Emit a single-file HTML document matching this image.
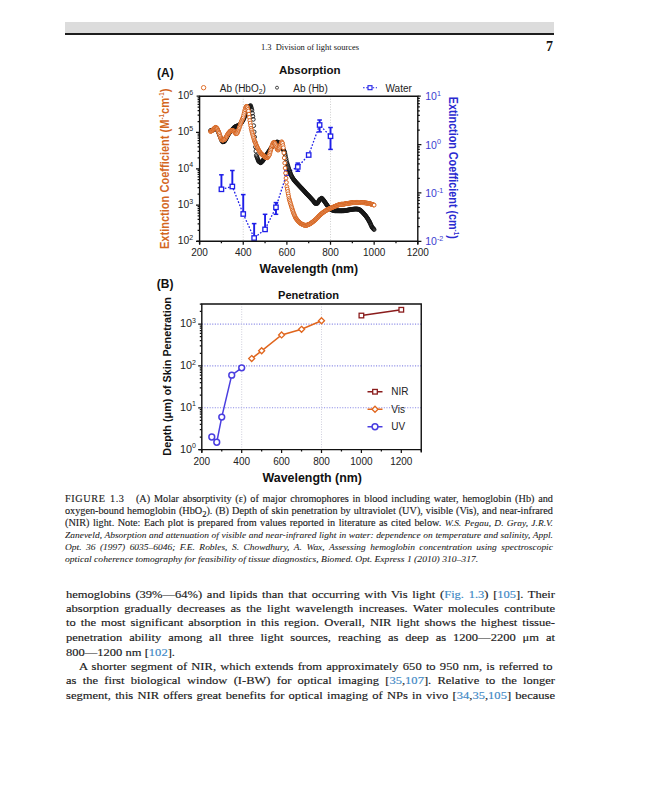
<!DOCTYPE html>
<html><head><meta charset="utf-8">
<style>
html,body{margin:0;padding:0;background:#fff;}
body{width:648px;height:800px;position:relative;overflow:hidden;}
.band{position:absolute;left:65px;top:22px;width:489px;height:11px;background:#dcdcdc;}
.rule{position:absolute;left:65px;top:33px;width:489px;height:2px;background:#1e1e1e;}
.rh{position:absolute;left:261px;top:42.2px;font:8.45px "Liberation Serif",serif;color:#111;white-space:pre;transform-origin:0 0;}
.pno{position:absolute;left:546px;top:39px;font:bold 14px "Liberation Serif",serif;color:#111;}
.ln{position:absolute;left:65.5px;white-space:nowrap;font-family:"Liberation Serif",serif;color:#1a1a1a;transform-origin:0 0;}
.j{text-align:justify;text-align-last:justify;white-space:normal;}
.cap{left:65px;font-size:9.3px;width:443.6px;transform:scaleX(1.1);-webkit-text-stroke:0.12px #1a1a1a;}
.cap i{font-size:8.6px;-webkit-text-stroke:0.05px #1a1a1a;}
.bd{font-size:11.2px;width:436.6px;transform:scaleX(1.12);-webkit-text-stroke:0.15px #1a1a1a;}
.lk{color:#3d87c4;-webkit-text-stroke-color:#3d87c4;}
i{font-style:italic;}
</style></head>
<body>
<div class="band"></div>
<div class="rule"></div>
<div class="rh">1.3  Division of light sources</div>
<div class="pno">7</div>

<svg width="648" height="490" viewBox="0 0 648 490" style="position:absolute;left:0;top:0">
<g font-family="Liberation Sans, sans-serif">
<line x1="243.24" y1="96.2" x2="243.24" y2="241.3" stroke="#c8c8c8" stroke-width="0.9" stroke-dasharray="1,1.6"/>
<line x1="330.52" y1="96.2" x2="330.52" y2="241.3" stroke="#c8c8c8" stroke-width="0.9" stroke-dasharray="1,1.6"/>
<polyline points="221.42,189.3 232.33,186.5 243.24,214 254.15,238 265.06,229.4 275.97,207.3 286.88,173 297.79,166.9 308.7,155 319.61,125 330.52,136.25" fill="none" stroke="#1e1ee8" stroke-width="1.3" stroke-dasharray="1.7,1.7"/>
<line x1="221.42" y1="174.8" x2="221.42" y2="189.3" stroke="#1e1ee8" stroke-width="1.9"/>
<line x1="219.12" y1="174.8" x2="223.72" y2="174.8" stroke="#1e1ee8" stroke-width="1.5"/>
<rect x="219.22" y="187.1" width="4.4" height="4.4" fill="#fff" stroke="#1e1ee8" stroke-width="1.3"/>
<line x1="232.33" y1="170.5" x2="232.33" y2="186.5" stroke="#1e1ee8" stroke-width="1.9"/>
<line x1="230.03" y1="170.5" x2="234.63" y2="170.5" stroke="#1e1ee8" stroke-width="1.5"/>
<rect x="230.13" y="184.3" width="4.4" height="4.4" fill="#fff" stroke="#1e1ee8" stroke-width="1.3"/>
<line x1="243.24" y1="194.6" x2="243.24" y2="214" stroke="#1e1ee8" stroke-width="1.9"/>
<line x1="240.94" y1="194.6" x2="245.54" y2="194.6" stroke="#1e1ee8" stroke-width="1.5"/>
<rect x="241.04" y="211.8" width="4.4" height="4.4" fill="#fff" stroke="#1e1ee8" stroke-width="1.3"/>
<line x1="254.15" y1="223.6" x2="254.15" y2="238" stroke="#1e1ee8" stroke-width="1.9"/>
<line x1="251.85" y1="223.6" x2="256.45" y2="223.6" stroke="#1e1ee8" stroke-width="1.5"/>
<rect x="251.95" y="235.8" width="4.4" height="4.4" fill="#fff" stroke="#1e1ee8" stroke-width="1.3"/>
<line x1="265.06" y1="214.3" x2="265.06" y2="229.4" stroke="#1e1ee8" stroke-width="1.9"/>
<line x1="262.76" y1="214.3" x2="267.36" y2="214.3" stroke="#1e1ee8" stroke-width="1.5"/>
<rect x="262.86" y="227.2" width="4.4" height="4.4" fill="#fff" stroke="#1e1ee8" stroke-width="1.3"/>
<line x1="275.97" y1="202.6" x2="275.97" y2="207.3" stroke="#1e1ee8" stroke-width="1.9"/>
<line x1="273.67" y1="202.6" x2="278.27" y2="202.6" stroke="#1e1ee8" stroke-width="1.5"/>
<line x1="275.97" y1="207.3" x2="275.97" y2="214.3" stroke="#1e1ee8" stroke-width="1.9"/>
<line x1="273.67" y1="214.3" x2="278.27" y2="214.3" stroke="#1e1ee8" stroke-width="1.5"/>
<rect x="273.77" y="205.1" width="4.4" height="4.4" fill="#fff" stroke="#1e1ee8" stroke-width="1.3"/>
<rect x="284.68" y="170.8" width="4.4" height="4.4" fill="#fff" stroke="#1e1ee8" stroke-width="1.3"/>
<line x1="297.79" y1="163.1" x2="297.79" y2="166.9" stroke="#1e1ee8" stroke-width="1.9"/>
<line x1="295.49" y1="163.1" x2="300.09" y2="163.1" stroke="#1e1ee8" stroke-width="1.5"/>
<line x1="297.79" y1="166.9" x2="297.79" y2="171.25" stroke="#1e1ee8" stroke-width="1.9"/>
<line x1="295.49" y1="171.25" x2="300.09" y2="171.25" stroke="#1e1ee8" stroke-width="1.5"/>
<rect x="295.59" y="164.7" width="4.4" height="4.4" fill="#fff" stroke="#1e1ee8" stroke-width="1.3"/>
<rect x="306.5" y="152.8" width="4.4" height="4.4" fill="#fff" stroke="#1e1ee8" stroke-width="1.3"/>
<line x1="319.61" y1="120" x2="319.61" y2="125" stroke="#1e1ee8" stroke-width="1.9"/>
<line x1="317.31" y1="120" x2="321.91" y2="120" stroke="#1e1ee8" stroke-width="1.5"/>
<line x1="319.61" y1="125" x2="319.61" y2="131.9" stroke="#1e1ee8" stroke-width="1.9"/>
<line x1="317.31" y1="131.9" x2="321.91" y2="131.9" stroke="#1e1ee8" stroke-width="1.5"/>
<rect x="317.41" y="122.8" width="4.4" height="4.4" fill="#fff" stroke="#1e1ee8" stroke-width="1.3"/>
<line x1="330.52" y1="127.5" x2="330.52" y2="136.25" stroke="#1e1ee8" stroke-width="1.9"/>
<line x1="328.22" y1="127.5" x2="332.82" y2="127.5" stroke="#1e1ee8" stroke-width="1.5"/>
<line x1="330.52" y1="136.25" x2="330.52" y2="149.4" stroke="#1e1ee8" stroke-width="1.9"/>
<line x1="328.22" y1="149.4" x2="332.82" y2="149.4" stroke="#1e1ee8" stroke-width="1.5"/>
<rect x="328.32" y="134.05" width="4.4" height="4.4" fill="#fff" stroke="#1e1ee8" stroke-width="1.3"/>
<g fill="none" stroke="#151515" stroke-width="0.9"><circle cx="210.51" cy="130.59" r="1.9"/><circle cx="210.95" cy="130.49" r="1.9"/><circle cx="211.38" cy="130.39" r="1.9"/><circle cx="211.82" cy="130.29" r="1.9"/><circle cx="212.26" cy="130.19" r="1.9"/><circle cx="212.69" cy="130.1" r="1.9"/><circle cx="213.13" cy="129.85" r="1.9"/><circle cx="213.56" cy="129.61" r="1.9"/><circle cx="214" cy="129.37" r="1.9"/><circle cx="214.44" cy="129.12" r="1.9"/><circle cx="214.87" cy="128.88" r="1.9"/><circle cx="215.31" cy="128.78" r="1.9"/><circle cx="215.75" cy="128.68" r="1.9"/><circle cx="216.18" cy="128.59" r="1.9"/><circle cx="216.62" cy="128.84" r="1.9"/><circle cx="217.06" cy="129.09" r="1.9"/><circle cx="217.49" cy="130.1" r="1.9"/><circle cx="217.93" cy="131.11" r="1.9"/><circle cx="218.37" cy="132.12" r="1.9"/><circle cx="218.8" cy="133.13" r="1.9"/><circle cx="219.24" cy="134.13" r="1.9"/><circle cx="219.67" cy="135.31" r="1.9"/><circle cx="220.11" cy="136.48" r="1.9"/><circle cx="220.55" cy="137.66" r="1.9"/><circle cx="220.98" cy="138.83" r="1.9"/><circle cx="221.42" cy="140.01" r="1.9"/><circle cx="221.86" cy="140.64" r="1.9"/><circle cx="222.29" cy="141.26" r="1.9"/><circle cx="222.73" cy="141.89" r="1.9"/><circle cx="223.17" cy="141.75" r="1.9"/><circle cx="223.6" cy="141.61" r="1.9"/><circle cx="224.04" cy="141.47" r="1.9"/><circle cx="224.47" cy="141.33" r="1.9"/><circle cx="224.91" cy="140.64" r="1.9"/><circle cx="225.35" cy="139.95" r="1.9"/><circle cx="225.78" cy="139.26" r="1.9"/><circle cx="226.22" cy="138.42" r="1.9"/><circle cx="226.66" cy="137.57" r="1.9"/><circle cx="227.09" cy="136.73" r="1.9"/><circle cx="227.53" cy="135.88" r="1.9"/><circle cx="227.97" cy="135.04" r="1.9"/><circle cx="228.4" cy="134.37" r="1.9"/><circle cx="228.84" cy="133.7" r="1.9"/><circle cx="229.28" cy="133.04" r="1.9"/><circle cx="229.71" cy="132.37" r="1.9"/><circle cx="230.15" cy="131.71" r="1.9"/><circle cx="230.58" cy="131.29" r="1.9"/><circle cx="231.02" cy="130.86" r="1.9"/><circle cx="231.46" cy="130.44" r="1.9"/><circle cx="231.89" cy="130.02" r="1.9"/><circle cx="232.33" cy="129.6" r="1.9"/><circle cx="232.77" cy="129.12" r="1.9"/><circle cx="233.2" cy="128.63" r="1.9"/><circle cx="233.64" cy="128.15" r="1.9"/><circle cx="234.08" cy="127.66" r="1.9"/><circle cx="234.51" cy="127.17" r="1.9"/><circle cx="234.95" cy="126.96" r="1.9"/><circle cx="235.38" cy="126.74" r="1.9"/><circle cx="235.82" cy="126.52" r="1.9"/><circle cx="236.26" cy="126.3" r="1.9"/><circle cx="236.69" cy="126.09" r="1.9"/><circle cx="237.13" cy="125.98" r="1.9"/><circle cx="237.57" cy="125.88" r="1.9"/><circle cx="238" cy="125.78" r="1.9"/><circle cx="238.44" cy="125.67" r="1.9"/><circle cx="238.88" cy="125.57" r="1.9"/><circle cx="239.31" cy="125.1" r="1.9"/><circle cx="239.75" cy="124.63" r="1.9"/><circle cx="240.19" cy="124.16" r="1.9"/><circle cx="240.62" cy="123.69" r="1.9"/><circle cx="241.06" cy="123.21" r="1.9"/><circle cx="241.49" cy="122.54" r="1.9"/><circle cx="241.93" cy="121.86" r="1.9"/><circle cx="242.37" cy="121.18" r="1.9"/><circle cx="242.8" cy="120.5" r="1.9"/><circle cx="243.24" cy="119.82" r="1.9"/><circle cx="243.68" cy="118.85" r="1.9"/><circle cx="244.11" cy="117.88" r="1.9"/><circle cx="244.55" cy="116.9" r="1.9"/><circle cx="244.99" cy="115.93" r="1.9"/><circle cx="245.42" cy="114.96" r="1.9"/><circle cx="245.86" cy="114.04" r="1.9"/><circle cx="246.29" cy="113.11" r="1.9"/><circle cx="246.73" cy="112.19" r="1.9"/><circle cx="247.17" cy="111.26" r="1.9"/><circle cx="247.6" cy="110.34" r="1.9"/><circle cx="248.04" cy="109.37" r="1.9"/><circle cx="248.48" cy="108.41" r="1.9"/><circle cx="248.91" cy="107.44" r="1.9"/><circle cx="249.35" cy="106.84" r="1.9"/><circle cx="249.79" cy="106.24" r="1.9"/><circle cx="250.22" cy="105.93" r="1.9"/><circle cx="250.66" cy="105.62" r="1.9"/><circle cx="251.1" cy="107.12" r="1.9"/><circle cx="251.53" cy="108.62" r="1.9"/><circle cx="251.97" cy="110.12" r="1.9"/><circle cx="252.4" cy="113.2" r="1.9"/><circle cx="252.84" cy="116.28" r="1.9"/><circle cx="253.28" cy="119.35" r="1.9"/><circle cx="253.71" cy="125.66" r="1.9"/><circle cx="254.15" cy="131.96" r="1.9"/><circle cx="254.59" cy="136.95" r="1.9"/><circle cx="255.02" cy="141.93" r="1.9"/><circle cx="255.46" cy="146.91" r="1.9"/><circle cx="255.9" cy="151.14" r="1.9"/><circle cx="256.33" cy="155.36" r="1.9"/><circle cx="256.77" cy="156.53" r="1.9"/><circle cx="257.2" cy="157.7" r="1.9"/><circle cx="257.64" cy="158.86" r="1.9"/><circle cx="258.08" cy="160.03" r="1.9"/><circle cx="258.51" cy="161.19" r="1.9"/><circle cx="258.95" cy="161.52" r="1.9"/><circle cx="259.39" cy="161.85" r="1.9"/><circle cx="259.82" cy="162.18" r="1.9"/><circle cx="260.26" cy="162.51" r="1.9"/><circle cx="260.7" cy="162.84" r="1.9"/><circle cx="261.13" cy="162.41" r="1.9"/><circle cx="261.57" cy="161.98" r="1.9"/><circle cx="262.01" cy="161.55" r="1.9"/><circle cx="262.44" cy="161.12" r="1.9"/><circle cx="262.88" cy="160.69" r="1.9"/><circle cx="263.31" cy="159.98" r="1.9"/><circle cx="263.75" cy="159.28" r="1.9"/><circle cx="264.19" cy="158.57" r="1.9"/><circle cx="264.62" cy="157.87" r="1.9"/><circle cx="265.06" cy="157.17" r="1.9"/><circle cx="265.5" cy="156.5" r="1.9"/><circle cx="265.93" cy="155.83" r="1.9"/><circle cx="266.37" cy="155.17" r="1.9"/><circle cx="266.81" cy="154.5" r="1.9"/><circle cx="267.24" cy="153.83" r="1.9"/><circle cx="267.68" cy="153.19" r="1.9"/><circle cx="268.11" cy="152.55" r="1.9"/><circle cx="268.55" cy="151.91" r="1.9"/><circle cx="268.99" cy="151.27" r="1.9"/><circle cx="269.42" cy="150.63" r="1.9"/><circle cx="269.86" cy="149.96" r="1.9"/><circle cx="270.3" cy="149.3" r="1.9"/><circle cx="270.73" cy="148.63" r="1.9"/><circle cx="271.17" cy="147.96" r="1.9"/><circle cx="271.61" cy="147.29" r="1.9"/><circle cx="272.04" cy="146.74" r="1.9"/><circle cx="272.48" cy="146.18" r="1.9"/><circle cx="272.92" cy="145.62" r="1.9"/><circle cx="273.35" cy="145.06" r="1.9"/><circle cx="273.79" cy="144.51" r="1.9"/><circle cx="274.22" cy="144.08" r="1.9"/><circle cx="274.66" cy="143.65" r="1.9"/><circle cx="275.1" cy="143.22" r="1.9"/><circle cx="275.53" cy="142.79" r="1.9"/><circle cx="275.97" cy="142.35" r="1.9"/><circle cx="276.41" cy="142.25" r="1.9"/><circle cx="276.84" cy="142.14" r="1.9"/><circle cx="277.28" cy="142.03" r="1.9"/><circle cx="277.72" cy="142.14" r="1.9"/><circle cx="278.15" cy="142.24" r="1.9"/><circle cx="278.59" cy="142.8" r="1.9"/><circle cx="279.02" cy="143.36" r="1.9"/><circle cx="279.46" cy="143.92" r="1.9"/><circle cx="279.9" cy="144.47" r="1.9"/><circle cx="280.33" cy="145.03" r="1.9"/><circle cx="280.77" cy="145.65" r="1.9"/><circle cx="281.21" cy="146.27" r="1.9"/><circle cx="281.64" cy="146.89" r="1.9"/><circle cx="282.08" cy="147.51" r="1.9"/><circle cx="282.52" cy="148.13" r="1.9"/><circle cx="282.95" cy="148.97" r="1.9"/><circle cx="283.39" cy="149.82" r="1.9"/><circle cx="283.83" cy="150.66" r="1.9"/><circle cx="284.26" cy="151.5" r="1.9"/><circle cx="284.7" cy="152.35" r="1.9"/><circle cx="285.13" cy="154.42" r="1.9"/><circle cx="285.57" cy="156.49" r="1.9"/><circle cx="286.01" cy="158.56" r="1.9"/><circle cx="286.44" cy="160.63" r="1.9"/><circle cx="286.88" cy="162.71" r="1.9"/><circle cx="287.32" cy="164.09" r="1.9"/><circle cx="287.75" cy="165.48" r="1.9"/><circle cx="288.19" cy="166.87" r="1.9"/><circle cx="288.63" cy="168.26" r="1.9"/><circle cx="289.06" cy="169.65" r="1.9"/><circle cx="289.5" cy="170.82" r="1.9"/><circle cx="289.93" cy="172" r="1.9"/><circle cx="290.37" cy="173.17" r="1.9"/><circle cx="290.81" cy="174.34" r="1.9"/><circle cx="291.24" cy="175.51" r="1.9"/><circle cx="291.68" cy="176.25" r="1.9"/><circle cx="292.12" cy="176.99" r="1.9"/><circle cx="292.55" cy="177.73" r="1.9"/><circle cx="292.99" cy="178.47" r="1.9"/><circle cx="293.43" cy="179.21" r="1.9"/><circle cx="293.86" cy="179.74" r="1.9"/><circle cx="294.3" cy="180.28" r="1.9"/><circle cx="294.74" cy="180.81" r="1.9"/><circle cx="295.17" cy="181.35" r="1.9"/><circle cx="295.61" cy="181.88" r="1.9"/><circle cx="296.04" cy="182.35" r="1.9"/><circle cx="296.48" cy="182.81" r="1.9"/><circle cx="296.92" cy="183.27" r="1.9"/><circle cx="297.35" cy="183.74" r="1.9"/><circle cx="297.79" cy="184.2" r="1.9"/><circle cx="298.23" cy="184.68" r="1.9"/><circle cx="298.66" cy="185.15" r="1.9"/><circle cx="299.1" cy="185.62" r="1.9"/><circle cx="299.54" cy="186.1" r="1.9"/><circle cx="299.97" cy="186.57" r="1.9"/><circle cx="300.41" cy="187.02" r="1.9"/><circle cx="300.84" cy="187.48" r="1.9"/><circle cx="301.28" cy="187.93" r="1.9"/><circle cx="301.72" cy="188.38" r="1.9"/><circle cx="302.15" cy="188.83" r="1.9"/><circle cx="302.59" cy="189.3" r="1.9"/><circle cx="303.03" cy="189.77" r="1.9"/><circle cx="303.46" cy="190.24" r="1.9"/><circle cx="303.9" cy="190.71" r="1.9"/><circle cx="304.34" cy="191.18" r="1.9"/><circle cx="304.77" cy="191.68" r="1.9"/><circle cx="305.21" cy="192.19" r="1.9"/><circle cx="305.65" cy="192.69" r="1.9"/><circle cx="306.08" cy="193.2" r="1.9"/><circle cx="306.52" cy="193.7" r="1.9"/><circle cx="306.95" cy="194.12" r="1.9"/><circle cx="307.39" cy="194.55" r="1.9"/><circle cx="307.83" cy="194.97" r="1.9"/><circle cx="308.26" cy="195.39" r="1.9"/><circle cx="308.7" cy="195.82" r="1.9"/><circle cx="309.14" cy="196.3" r="1.9"/><circle cx="309.57" cy="196.78" r="1.9"/><circle cx="310.01" cy="197.26" r="1.9"/><circle cx="310.45" cy="197.74" r="1.9"/><circle cx="310.88" cy="198.22" r="1.9"/><circle cx="311.32" cy="198.69" r="1.9"/><circle cx="311.75" cy="199.16" r="1.9"/><circle cx="312.19" cy="199.64" r="1.9"/><circle cx="312.63" cy="200.11" r="1.9"/><circle cx="313.06" cy="200.58" r="1.9"/><circle cx="313.5" cy="201.16" r="1.9"/><circle cx="313.94" cy="201.75" r="1.9"/><circle cx="314.37" cy="202.33" r="1.9"/><circle cx="314.81" cy="202.91" r="1.9"/><circle cx="315.25" cy="203.49" r="1.9"/><circle cx="315.68" cy="203.45" r="1.9"/><circle cx="316.12" cy="203.41" r="1.9"/><circle cx="316.56" cy="203.38" r="1.9"/><circle cx="316.99" cy="203.34" r="1.9"/><circle cx="317.43" cy="203.3" r="1.9"/><circle cx="317.86" cy="202.57" r="1.9"/><circle cx="318.3" cy="201.84" r="1.9"/><circle cx="318.74" cy="201.12" r="1.9"/><circle cx="319.17" cy="200.39" r="1.9"/><circle cx="319.61" cy="199.67" r="1.9"/><circle cx="320.05" cy="199.36" r="1.9"/><circle cx="320.48" cy="199.05" r="1.9"/><circle cx="320.92" cy="198.75" r="1.9"/><circle cx="321.36" cy="198.44" r="1.9"/><circle cx="321.79" cy="198.14" r="1.9"/><circle cx="322.23" cy="198.66" r="1.9"/><circle cx="322.66" cy="199.18" r="1.9"/><circle cx="323.1" cy="199.7" r="1.9"/><circle cx="323.54" cy="200.23" r="1.9"/><circle cx="323.97" cy="200.75" r="1.9"/><circle cx="324.41" cy="201.37" r="1.9"/><circle cx="324.85" cy="202" r="1.9"/><circle cx="325.28" cy="202.63" r="1.9"/><circle cx="325.72" cy="203.25" r="1.9"/><circle cx="326.16" cy="203.88" r="1.9"/><circle cx="326.59" cy="204.5" r="1.9"/><circle cx="327.03" cy="205.12" r="1.9"/><circle cx="327.47" cy="205.74" r="1.9"/><circle cx="327.9" cy="206.37" r="1.9"/><circle cx="328.34" cy="206.99" r="1.9"/><circle cx="328.77" cy="207.45" r="1.9"/><circle cx="329.21" cy="207.92" r="1.9"/><circle cx="329.65" cy="208.38" r="1.9"/><circle cx="330.08" cy="208.85" r="1.9"/><circle cx="330.52" cy="209.31" r="1.9"/><circle cx="330.96" cy="209.5" r="1.9"/><circle cx="331.39" cy="209.69" r="1.9"/><circle cx="331.83" cy="209.88" r="1.9"/><circle cx="332.27" cy="210.07" r="1.9"/><circle cx="332.7" cy="210.26" r="1.9"/><circle cx="333.14" cy="210.37" r="1.9"/><circle cx="333.57" cy="210.47" r="1.9"/><circle cx="334.01" cy="210.58" r="1.9"/><circle cx="334.45" cy="210.68" r="1.9"/><circle cx="334.88" cy="210.79" r="1.9"/><circle cx="335.32" cy="210.79" r="1.9"/><circle cx="335.76" cy="210.79" r="1.9"/><circle cx="336.19" cy="210.79" r="1.9"/><circle cx="336.63" cy="210.8" r="1.9"/><circle cx="337.07" cy="210.8" r="1.9"/><circle cx="337.5" cy="210.8" r="1.9"/><circle cx="337.94" cy="210.81" r="1.9"/><circle cx="338.38" cy="210.81" r="1.9"/><circle cx="338.81" cy="210.81" r="1.9"/><circle cx="339.25" cy="210.82" r="1.9"/><circle cx="339.68" cy="210.82" r="1.9"/><circle cx="340.12" cy="210.83" r="1.9"/><circle cx="340.56" cy="210.83" r="1.9"/><circle cx="340.99" cy="210.84" r="1.9"/><circle cx="341.43" cy="210.84" r="1.9"/><circle cx="341.87" cy="210.83" r="1.9"/><circle cx="342.3" cy="210.81" r="1.9"/><circle cx="342.74" cy="210.8" r="1.9"/><circle cx="343.18" cy="210.79" r="1.9"/><circle cx="343.61" cy="210.77" r="1.9"/><circle cx="344.05" cy="210.72" r="1.9"/><circle cx="344.48" cy="210.67" r="1.9"/><circle cx="344.92" cy="210.62" r="1.9"/><circle cx="345.36" cy="210.57" r="1.9"/><circle cx="345.79" cy="210.51" r="1.9"/><circle cx="346.23" cy="210.42" r="1.9"/><circle cx="346.67" cy="210.33" r="1.9"/><circle cx="347.1" cy="210.24" r="1.9"/><circle cx="347.54" cy="210.15" r="1.9"/><circle cx="347.98" cy="210.06" r="1.9"/><circle cx="348.41" cy="209.99" r="1.9"/><circle cx="348.85" cy="209.91" r="1.9"/><circle cx="349.29" cy="209.84" r="1.9"/><circle cx="349.72" cy="209.77" r="1.9"/><circle cx="350.16" cy="209.69" r="1.9"/><circle cx="350.59" cy="209.62" r="1.9"/><circle cx="351.03" cy="209.54" r="1.9"/><circle cx="351.47" cy="209.46" r="1.9"/><circle cx="351.9" cy="209.39" r="1.9"/><circle cx="352.34" cy="209.31" r="1.9"/><circle cx="352.78" cy="209.26" r="1.9"/><circle cx="353.21" cy="209.21" r="1.9"/><circle cx="353.65" cy="209.15" r="1.9"/><circle cx="354.09" cy="209.1" r="1.9"/><circle cx="354.52" cy="209.05" r="1.9"/><circle cx="354.96" cy="209.04" r="1.9"/><circle cx="355.39" cy="209.03" r="1.9"/><circle cx="355.83" cy="209.02" r="1.9"/><circle cx="356.27" cy="209" r="1.9"/><circle cx="356.7" cy="208.99" r="1.9"/><circle cx="357.14" cy="209.06" r="1.9"/><circle cx="357.58" cy="209.12" r="1.9"/><circle cx="358.01" cy="209.18" r="1.9"/><circle cx="358.45" cy="209.24" r="1.9"/><circle cx="358.89" cy="209.3" r="1.9"/><circle cx="359.32" cy="209.6" r="1.9"/><circle cx="359.76" cy="209.9" r="1.9"/><circle cx="360.2" cy="210.2" r="1.9"/><circle cx="360.63" cy="210.49" r="1.9"/><circle cx="361.07" cy="210.79" r="1.9"/><circle cx="361.5" cy="211.24" r="1.9"/><circle cx="361.94" cy="211.68" r="1.9"/><circle cx="362.38" cy="212.13" r="1.9"/><circle cx="362.81" cy="212.57" r="1.9"/><circle cx="363.25" cy="213.01" r="1.9"/><circle cx="363.69" cy="213.51" r="1.9"/><circle cx="364.12" cy="214.01" r="1.9"/><circle cx="364.56" cy="214.5" r="1.9"/><circle cx="365" cy="215" r="1.9"/><circle cx="365.43" cy="215.49" r="1.9"/><circle cx="365.87" cy="216.09" r="1.9"/><circle cx="366.3" cy="216.69" r="1.9"/><circle cx="366.74" cy="217.28" r="1.9"/><circle cx="367.18" cy="217.88" r="1.9"/><circle cx="367.61" cy="218.47" r="1.9"/><circle cx="368.05" cy="219.25" r="1.9"/><circle cx="368.49" cy="220.02" r="1.9"/><circle cx="368.92" cy="220.79" r="1.9"/><circle cx="369.36" cy="221.56" r="1.9"/><circle cx="369.8" cy="222.34" r="1.9"/><circle cx="370.23" cy="223.3" r="1.9"/><circle cx="370.67" cy="224.26" r="1.9"/><circle cx="371.11" cy="225.22" r="1.9"/><circle cx="371.54" cy="226.18" r="1.9"/><circle cx="371.98" cy="227.14" r="1.9"/><circle cx="372.41" cy="227.63" r="1.9"/><circle cx="372.85" cy="228.13" r="1.9"/><circle cx="373.29" cy="228.62" r="1.9"/><circle cx="373.72" cy="229.12" r="1.9"/><circle cx="374.16" cy="229.61" r="1.9"/></g>
<g fill="#fff" stroke="#d8651f" stroke-width="1.0"><circle cx="210.51" cy="131.54" r="1.9"/><circle cx="210.95" cy="131.25" r="1.9"/><circle cx="211.38" cy="130.96" r="1.9"/><circle cx="211.82" cy="130.67" r="1.9"/><circle cx="212.26" cy="130.39" r="1.9"/><circle cx="212.69" cy="130.1" r="1.9"/><circle cx="213.13" cy="129.6" r="1.9"/><circle cx="213.56" cy="129.1" r="1.9"/><circle cx="214" cy="128.6" r="1.9"/><circle cx="214.44" cy="128.1" r="1.9"/><circle cx="214.87" cy="127.83" r="1.9"/><circle cx="215.31" cy="127.56" r="1.9"/><circle cx="215.75" cy="127.29" r="1.9"/><circle cx="216.18" cy="127.64" r="1.9"/><circle cx="216.62" cy="127.99" r="1.9"/><circle cx="217.06" cy="128.34" r="1.9"/><circle cx="217.49" cy="129.33" r="1.9"/><circle cx="217.93" cy="130.32" r="1.9"/><circle cx="218.37" cy="131.31" r="1.9"/><circle cx="218.8" cy="132.29" r="1.9"/><circle cx="219.24" cy="133.28" r="1.9"/><circle cx="219.67" cy="134.74" r="1.9"/><circle cx="220.11" cy="136.19" r="1.9"/><circle cx="220.55" cy="137.65" r="1.9"/><circle cx="220.98" cy="138.58" r="1.9"/><circle cx="221.42" cy="139.51" r="1.9"/><circle cx="221.86" cy="139.76" r="1.9"/><circle cx="222.29" cy="140.01" r="1.9"/><circle cx="222.73" cy="140.26" r="1.9"/><circle cx="223.17" cy="140.07" r="1.9"/><circle cx="223.6" cy="139.88" r="1.9"/><circle cx="224.04" cy="139.69" r="1.9"/><circle cx="224.47" cy="139.51" r="1.9"/><circle cx="224.91" cy="138.89" r="1.9"/><circle cx="225.35" cy="138.27" r="1.9"/><circle cx="225.78" cy="137.65" r="1.9"/><circle cx="226.22" cy="136.88" r="1.9"/><circle cx="226.66" cy="136.11" r="1.9"/><circle cx="227.09" cy="135.33" r="1.9"/><circle cx="227.53" cy="134.56" r="1.9"/><circle cx="227.97" cy="133.79" r="1.9"/><circle cx="228.4" cy="133.28" r="1.9"/><circle cx="228.84" cy="132.78" r="1.9"/><circle cx="229.28" cy="132.27" r="1.9"/><circle cx="229.71" cy="131.77" r="1.9"/><circle cx="230.15" cy="131.26" r="1.9"/><circle cx="230.58" cy="130.98" r="1.9"/><circle cx="231.02" cy="130.69" r="1.9"/><circle cx="231.46" cy="130.41" r="1.9"/><circle cx="231.89" cy="130.45" r="1.9"/><circle cx="232.33" cy="130.48" r="1.9"/><circle cx="232.77" cy="130.51" r="1.9"/><circle cx="233.2" cy="130.55" r="1.9"/><circle cx="233.64" cy="130.99" r="1.9"/><circle cx="234.08" cy="131.42" r="1.9"/><circle cx="234.51" cy="131.86" r="1.9"/><circle cx="234.95" cy="132.5" r="1.9"/><circle cx="235.38" cy="133.14" r="1.9"/><circle cx="235.82" cy="133.79" r="1.9"/><circle cx="236.26" cy="133.62" r="1.9"/><circle cx="236.69" cy="133.45" r="1.9"/><circle cx="237.13" cy="133.28" r="1.9"/><circle cx="237.57" cy="132.2" r="1.9"/><circle cx="238" cy="131.12" r="1.9"/><circle cx="238.44" cy="130.04" r="1.9"/><circle cx="238.88" cy="128.96" r="1.9"/><circle cx="239.31" cy="127.64" r="1.9"/><circle cx="239.75" cy="126.32" r="1.9"/><circle cx="240.19" cy="125" r="1.9"/><circle cx="240.62" cy="123.68" r="1.9"/><circle cx="241.06" cy="122.36" r="1.9"/><circle cx="241.49" cy="121.3" r="1.9"/><circle cx="241.93" cy="120.24" r="1.9"/><circle cx="242.37" cy="119.17" r="1.9"/><circle cx="242.8" cy="118.11" r="1.9"/><circle cx="243.24" cy="117.05" r="1.9"/><circle cx="243.68" cy="115.18" r="1.9"/><circle cx="244.11" cy="113.31" r="1.9"/><circle cx="244.55" cy="111.44" r="1.9"/><circle cx="244.99" cy="109.82" r="1.9"/><circle cx="245.42" cy="108.2" r="1.9"/><circle cx="245.86" cy="107.29" r="1.9"/><circle cx="246.29" cy="106.37" r="1.9"/><circle cx="246.73" cy="106.59" r="1.9"/><circle cx="247.17" cy="106.81" r="1.9"/><circle cx="247.6" cy="107.75" r="1.9"/><circle cx="248.04" cy="109.39" r="1.9"/><circle cx="248.48" cy="111.03" r="1.9"/><circle cx="248.91" cy="114.18" r="1.9"/><circle cx="249.35" cy="117.33" r="1.9"/><circle cx="249.79" cy="120.48" r="1.9"/><circle cx="250.22" cy="123.1" r="1.9"/><circle cx="250.66" cy="125.72" r="1.9"/><circle cx="251.1" cy="128.34" r="1.9"/><circle cx="251.53" cy="130.15" r="1.9"/><circle cx="251.97" cy="131.96" r="1.9"/><circle cx="252.4" cy="133.53" r="1.9"/><circle cx="252.84" cy="135.1" r="1.9"/><circle cx="253.28" cy="136.67" r="1.9"/><circle cx="253.71" cy="138.23" r="1.9"/><circle cx="254.15" cy="139.8" r="1.9"/><circle cx="254.59" cy="140.89" r="1.9"/><circle cx="255.02" cy="141.98" r="1.9"/><circle cx="255.46" cy="143.06" r="1.9"/><circle cx="255.9" cy="144.15" r="1.9"/><circle cx="256.33" cy="145.24" r="1.9"/><circle cx="256.77" cy="146.16" r="1.9"/><circle cx="257.2" cy="147.08" r="1.9"/><circle cx="257.64" cy="148" r="1.9"/><circle cx="258.08" cy="148.92" r="1.9"/><circle cx="258.51" cy="149.84" r="1.9"/><circle cx="258.95" cy="150.54" r="1.9"/><circle cx="259.39" cy="151.23" r="1.9"/><circle cx="259.82" cy="151.93" r="1.9"/><circle cx="260.26" cy="152.62" r="1.9"/><circle cx="260.7" cy="153.32" r="1.9"/><circle cx="261.13" cy="153.69" r="1.9"/><circle cx="261.57" cy="154.06" r="1.9"/><circle cx="262.01" cy="154.43" r="1.9"/><circle cx="262.44" cy="154.8" r="1.9"/><circle cx="262.88" cy="155.17" r="1.9"/><circle cx="263.31" cy="155.56" r="1.9"/><circle cx="263.75" cy="155.94" r="1.9"/><circle cx="264.19" cy="156.33" r="1.9"/><circle cx="264.62" cy="156.72" r="1.9"/><circle cx="265.06" cy="157.11" r="1.9"/><circle cx="265.5" cy="157.25" r="1.9"/><circle cx="265.93" cy="157.39" r="1.9"/><circle cx="266.37" cy="157.53" r="1.9"/><circle cx="266.81" cy="157.66" r="1.9"/><circle cx="267.24" cy="157.8" r="1.9"/><circle cx="267.68" cy="157.21" r="1.9"/><circle cx="268.11" cy="156.61" r="1.9"/><circle cx="268.55" cy="156.02" r="1.9"/><circle cx="268.99" cy="155.42" r="1.9"/><circle cx="269.42" cy="154.83" r="1.9"/><circle cx="269.86" cy="153.25" r="1.9"/><circle cx="270.3" cy="151.67" r="1.9"/><circle cx="270.73" cy="150.09" r="1.9"/><circle cx="271.17" cy="148.51" r="1.9"/><circle cx="271.61" cy="146.93" r="1.9"/><circle cx="272.04" cy="145.75" r="1.9"/><circle cx="272.48" cy="144.57" r="1.9"/><circle cx="272.92" cy="143.39" r="1.9"/><circle cx="273.35" cy="142.9" r="1.9"/><circle cx="273.79" cy="142.41" r="1.9"/><circle cx="274.22" cy="142.35" r="1.9"/><circle cx="274.66" cy="142.87" r="1.9"/><circle cx="275.1" cy="143.39" r="1.9"/><circle cx="275.53" cy="144.58" r="1.9"/><circle cx="275.97" cy="145.77" r="1.9"/><circle cx="276.41" cy="147" r="1.9"/><circle cx="276.84" cy="148.24" r="1.9"/><circle cx="277.28" cy="149.47" r="1.9"/><circle cx="277.72" cy="149.8" r="1.9"/><circle cx="278.15" cy="150.13" r="1.9"/><circle cx="278.59" cy="149.32" r="1.9"/><circle cx="279.02" cy="148.52" r="1.9"/><circle cx="279.46" cy="147.72" r="1.9"/><circle cx="279.9" cy="146.48" r="1.9"/><circle cx="280.33" cy="145.23" r="1.9"/><circle cx="280.77" cy="144.07" r="1.9"/><circle cx="281.21" cy="142.9" r="1.9"/><circle cx="281.64" cy="141.74" r="1.9"/><circle cx="282.08" cy="142.55" r="1.9"/><circle cx="282.52" cy="143.36" r="1.9"/><circle cx="282.95" cy="145.54" r="1.9"/><circle cx="283.39" cy="147.72" r="1.9"/><circle cx="283.83" cy="152.81" r="1.9"/><circle cx="284.26" cy="157.91" r="1.9"/><circle cx="284.7" cy="163" r="1.9"/><circle cx="285.13" cy="168.06" r="1.9"/><circle cx="285.57" cy="173.11" r="1.9"/><circle cx="286.01" cy="178.17" r="1.9"/><circle cx="286.44" cy="182.43" r="1.9"/><circle cx="286.88" cy="186.7" r="1.9"/><circle cx="287.32" cy="189.08" r="1.9"/><circle cx="287.75" cy="191.45" r="1.9"/><circle cx="288.19" cy="193.82" r="1.9"/><circle cx="288.63" cy="196.2" r="1.9"/><circle cx="289.06" cy="198.57" r="1.9"/><circle cx="289.5" cy="200.05" r="1.9"/><circle cx="289.93" cy="201.53" r="1.9"/><circle cx="290.37" cy="203.01" r="1.9"/><circle cx="290.81" cy="204.49" r="1.9"/><circle cx="291.24" cy="205.97" r="1.9"/><circle cx="291.68" cy="207.34" r="1.9"/><circle cx="292.12" cy="208.7" r="1.9"/><circle cx="292.55" cy="210.07" r="1.9"/><circle cx="292.99" cy="211.44" r="1.9"/><circle cx="293.43" cy="212.81" r="1.9"/><circle cx="293.86" cy="213.83" r="1.9"/><circle cx="294.3" cy="214.84" r="1.9"/><circle cx="294.74" cy="215.86" r="1.9"/><circle cx="295.17" cy="216.87" r="1.9"/><circle cx="295.61" cy="217.89" r="1.9"/><circle cx="296.04" cy="218.46" r="1.9"/><circle cx="296.48" cy="219.04" r="1.9"/><circle cx="296.92" cy="219.62" r="1.9"/><circle cx="297.35" cy="220.2" r="1.9"/><circle cx="297.79" cy="220.77" r="1.9"/><circle cx="298.23" cy="221.22" r="1.9"/><circle cx="298.66" cy="221.66" r="1.9"/><circle cx="299.1" cy="222.11" r="1.9"/><circle cx="299.54" cy="222.55" r="1.9"/><circle cx="299.97" cy="223" r="1.9"/><circle cx="300.41" cy="223.26" r="1.9"/><circle cx="300.84" cy="223.52" r="1.9"/><circle cx="301.28" cy="223.78" r="1.9"/><circle cx="301.72" cy="224.05" r="1.9"/><circle cx="302.15" cy="224.31" r="1.9"/><circle cx="302.59" cy="224.49" r="1.9"/><circle cx="303.03" cy="224.67" r="1.9"/><circle cx="303.46" cy="224.85" r="1.9"/><circle cx="303.9" cy="225.03" r="1.9"/><circle cx="304.34" cy="225.21" r="1.9"/><circle cx="304.77" cy="225.23" r="1.9"/><circle cx="305.21" cy="225.25" r="1.9"/><circle cx="305.65" cy="225.27" r="1.9"/><circle cx="306.08" cy="225.29" r="1.9"/><circle cx="306.52" cy="225.31" r="1.9"/><circle cx="306.95" cy="225.15" r="1.9"/><circle cx="307.39" cy="224.99" r="1.9"/><circle cx="307.83" cy="224.84" r="1.9"/><circle cx="308.26" cy="224.68" r="1.9"/><circle cx="308.7" cy="224.53" r="1.9"/><circle cx="309.14" cy="224.28" r="1.9"/><circle cx="309.57" cy="224.03" r="1.9"/><circle cx="310.01" cy="223.77" r="1.9"/><circle cx="310.45" cy="223.52" r="1.9"/><circle cx="310.88" cy="223.27" r="1.9"/><circle cx="311.32" cy="222.95" r="1.9"/><circle cx="311.75" cy="222.63" r="1.9"/><circle cx="312.19" cy="222.3" r="1.9"/><circle cx="312.63" cy="221.98" r="1.9"/><circle cx="313.06" cy="221.65" r="1.9"/><circle cx="313.5" cy="221.3" r="1.9"/><circle cx="313.94" cy="220.94" r="1.9"/><circle cx="314.37" cy="220.58" r="1.9"/><circle cx="314.81" cy="220.22" r="1.9"/><circle cx="315.25" cy="219.86" r="1.9"/><circle cx="315.68" cy="219.44" r="1.9"/><circle cx="316.12" cy="219.01" r="1.9"/><circle cx="316.56" cy="218.59" r="1.9"/><circle cx="316.99" cy="218.17" r="1.9"/><circle cx="317.43" cy="217.75" r="1.9"/><circle cx="317.86" cy="217.27" r="1.9"/><circle cx="318.3" cy="216.8" r="1.9"/><circle cx="318.74" cy="216.33" r="1.9"/><circle cx="319.17" cy="215.86" r="1.9"/><circle cx="319.61" cy="215.39" r="1.9"/><circle cx="320.05" cy="215" r="1.9"/><circle cx="320.48" cy="214.61" r="1.9"/><circle cx="320.92" cy="214.22" r="1.9"/><circle cx="321.36" cy="213.83" r="1.9"/><circle cx="321.79" cy="213.44" r="1.9"/><circle cx="322.23" cy="213.12" r="1.9"/><circle cx="322.66" cy="212.79" r="1.9"/><circle cx="323.1" cy="212.46" r="1.9"/><circle cx="323.54" cy="212.14" r="1.9"/><circle cx="323.97" cy="211.81" r="1.9"/><circle cx="324.41" cy="211.53" r="1.9"/><circle cx="324.85" cy="211.26" r="1.9"/><circle cx="325.28" cy="210.98" r="1.9"/><circle cx="325.72" cy="210.7" r="1.9"/><circle cx="326.16" cy="210.42" r="1.9"/><circle cx="326.59" cy="210.16" r="1.9"/><circle cx="327.03" cy="209.91" r="1.9"/><circle cx="327.47" cy="209.65" r="1.9"/><circle cx="327.9" cy="209.4" r="1.9"/><circle cx="328.34" cy="209.14" r="1.9"/><circle cx="328.77" cy="208.96" r="1.9"/><circle cx="329.21" cy="208.78" r="1.9"/><circle cx="329.65" cy="208.59" r="1.9"/><circle cx="330.08" cy="208.41" r="1.9"/><circle cx="330.52" cy="208.23" r="1.9"/><circle cx="330.96" cy="208.05" r="1.9"/><circle cx="331.39" cy="207.87" r="1.9"/><circle cx="331.83" cy="207.69" r="1.9"/><circle cx="332.27" cy="207.51" r="1.9"/><circle cx="332.7" cy="207.33" r="1.9"/><circle cx="333.14" cy="207.14" r="1.9"/><circle cx="333.57" cy="206.96" r="1.9"/><circle cx="334.01" cy="206.78" r="1.9"/><circle cx="334.45" cy="206.59" r="1.9"/><circle cx="334.88" cy="206.41" r="1.9"/><circle cx="335.32" cy="206.21" r="1.9"/><circle cx="335.76" cy="206.02" r="1.9"/><circle cx="336.19" cy="205.83" r="1.9"/><circle cx="336.63" cy="205.63" r="1.9"/><circle cx="337.07" cy="205.44" r="1.9"/><circle cx="337.5" cy="205.29" r="1.9"/><circle cx="337.94" cy="205.14" r="1.9"/><circle cx="338.38" cy="204.99" r="1.9"/><circle cx="338.81" cy="204.83" r="1.9"/><circle cx="339.25" cy="204.68" r="1.9"/><circle cx="339.68" cy="204.57" r="1.9"/><circle cx="340.12" cy="204.46" r="1.9"/><circle cx="340.56" cy="204.35" r="1.9"/><circle cx="340.99" cy="204.25" r="1.9"/><circle cx="341.43" cy="204.14" r="1.9"/><circle cx="341.87" cy="204.15" r="1.9"/><circle cx="342.3" cy="204.16" r="1.9"/><circle cx="342.74" cy="204.17" r="1.9"/><circle cx="343.18" cy="204.18" r="1.9"/><circle cx="343.61" cy="204.2" r="1.9"/><circle cx="344.05" cy="204.09" r="1.9"/><circle cx="344.48" cy="203.99" r="1.9"/><circle cx="344.92" cy="203.89" r="1.9"/><circle cx="345.36" cy="203.78" r="1.9"/><circle cx="345.79" cy="203.68" r="1.9"/><circle cx="346.23" cy="203.61" r="1.9"/><circle cx="346.67" cy="203.54" r="1.9"/><circle cx="347.1" cy="203.47" r="1.9"/><circle cx="347.54" cy="203.4" r="1.9"/><circle cx="347.98" cy="203.32" r="1.9"/><circle cx="348.41" cy="203.26" r="1.9"/><circle cx="348.85" cy="203.2" r="1.9"/><circle cx="349.29" cy="203.13" r="1.9"/><circle cx="349.72" cy="203.07" r="1.9"/><circle cx="350.16" cy="203" r="1.9"/><circle cx="350.59" cy="202.95" r="1.9"/><circle cx="351.03" cy="202.9" r="1.9"/><circle cx="351.47" cy="202.85" r="1.9"/><circle cx="351.9" cy="202.79" r="1.9"/><circle cx="352.34" cy="202.74" r="1.9"/><circle cx="352.78" cy="202.7" r="1.9"/><circle cx="353.21" cy="202.65" r="1.9"/><circle cx="353.65" cy="202.61" r="1.9"/><circle cx="354.09" cy="202.57" r="1.9"/><circle cx="354.52" cy="202.52" r="1.9"/><circle cx="354.96" cy="202.5" r="1.9"/><circle cx="355.39" cy="202.48" r="1.9"/><circle cx="355.83" cy="202.45" r="1.9"/><circle cx="356.27" cy="202.43" r="1.9"/><circle cx="356.7" cy="202.4" r="1.9"/><circle cx="357.14" cy="202.41" r="1.9"/><circle cx="357.58" cy="202.41" r="1.9"/><circle cx="358.01" cy="202.42" r="1.9"/><circle cx="358.45" cy="202.43" r="1.9"/><circle cx="358.89" cy="202.43" r="1.9"/><circle cx="359.32" cy="202.45" r="1.9"/><circle cx="359.76" cy="202.47" r="1.9"/><circle cx="360.2" cy="202.49" r="1.9"/><circle cx="360.63" cy="202.51" r="1.9"/><circle cx="361.07" cy="202.52" r="1.9"/><circle cx="361.5" cy="202.55" r="1.9"/><circle cx="361.94" cy="202.58" r="1.9"/><circle cx="362.38" cy="202.61" r="1.9"/><circle cx="362.81" cy="202.63" r="1.9"/><circle cx="363.25" cy="202.66" r="1.9"/><circle cx="363.69" cy="202.71" r="1.9"/><circle cx="364.12" cy="202.76" r="1.9"/><circle cx="364.56" cy="202.81" r="1.9"/><circle cx="365" cy="202.86" r="1.9"/><circle cx="365.43" cy="202.91" r="1.9"/><circle cx="365.87" cy="202.97" r="1.9"/><circle cx="366.3" cy="203.03" r="1.9"/><circle cx="366.74" cy="203.1" r="1.9"/><circle cx="367.18" cy="203.16" r="1.9"/><circle cx="367.61" cy="203.23" r="1.9"/><circle cx="368.05" cy="203.32" r="1.9"/><circle cx="368.49" cy="203.41" r="1.9"/><circle cx="368.92" cy="203.5" r="1.9"/><circle cx="369.36" cy="203.59" r="1.9"/><circle cx="369.8" cy="203.68" r="1.9"/><circle cx="370.23" cy="203.82" r="1.9"/><circle cx="370.67" cy="203.96" r="1.9"/><circle cx="371.11" cy="204.1" r="1.9"/><circle cx="371.54" cy="204.24" r="1.9"/><circle cx="371.98" cy="204.38" r="1.9"/><circle cx="372.41" cy="204.52" r="1.9"/><circle cx="372.85" cy="204.66" r="1.9"/><circle cx="373.29" cy="204.8" r="1.9"/><circle cx="373.72" cy="204.95" r="1.9"/><circle cx="374.16" cy="205.09" r="1.9"/></g>
<path d="M199.6,244.3V96.2H417.8V244.3M196.6,241.3H417.8" fill="none" stroke="#111" stroke-width="1.4"/>
<path d="M199.6,241.3v3.4M221.42,241.3v2.0M243.24,241.3v3.4M265.06,241.3v2.0M286.88,241.3v3.4M308.7,241.3v2.0M330.52,241.3v3.4M352.34,241.3v2.0M374.16,241.3v3.4M395.98,241.3v2.0M417.8,241.3v3.4M199.6,241.3h-3.6M199.6,230.38h-2.0M199.6,223.99h-2.0M199.6,219.46h-2.0M199.6,215.94h-2.0M199.6,213.07h-2.0M199.6,210.64h-2.0M199.6,208.54h-2.0M199.6,206.68h-2.0M199.6,205.03h-3.6M199.6,194.11h-2.0M199.6,187.72h-2.0M199.6,183.19h-2.0M199.6,179.67h-2.0M199.6,176.8h-2.0M199.6,174.37h-2.0M199.6,172.27h-2.0M199.6,170.41h-2.0M199.6,168.75h-3.6M199.6,157.83h-2.0M199.6,151.44h-2.0M199.6,146.91h-2.0M199.6,143.39h-2.0M199.6,140.52h-2.0M199.6,138.09h-2.0M199.6,135.99h-2.0M199.6,134.13h-2.0M199.6,132.47h-3.6M199.6,121.56h-2.0M199.6,115.17h-2.0M199.6,110.64h-2.0M199.6,107.12h-2.0M199.6,104.25h-2.0M199.6,101.82h-2.0M199.6,99.72h-2.0M199.6,97.86h-2.0M199.6,96.2h-3M417.8,241.3h3.6M417.8,226.74h2.0M417.8,218.22h2.0M417.8,212.18h2.0M417.8,207.49h2.0M417.8,203.66h2.0M417.8,200.43h2.0M417.8,197.62h2.0M417.8,195.15h2.0M417.8,192.93h3.6M417.8,178.37h2.0M417.8,169.86h2.0M417.8,163.81h2.0M417.8,159.13h2.0M417.8,155.3h2.0M417.8,152.06h2.0M417.8,149.25h2.0M417.8,146.78h2.0M417.8,144.57h3.6M417.8,130.01h2.0M417.8,121.49h2.0M417.8,115.45h2.0M417.8,110.76h2.0M417.8,106.93h2.0M417.8,103.69h2.0M417.8,100.89h2.0M417.8,98.41h2.0M417.8,96.2h3" stroke="#111" stroke-width="1.25" fill="none"/>
<text x="199.6" y="255.8" font-size="10" text-anchor="middle" fill="#222">200</text>
<text x="243.24" y="255.8" font-size="10" text-anchor="middle" fill="#222">400</text>
<text x="286.88" y="255.8" font-size="10" text-anchor="middle" fill="#222">600</text>
<text x="330.52" y="255.8" font-size="10" text-anchor="middle" fill="#222">800</text>
<text x="374.16" y="255.8" font-size="10" text-anchor="middle" fill="#222">1000</text>
<text x="417.8" y="255.8" font-size="10" text-anchor="middle" fill="#222">1200</text>
<text x="193.1" y="244.1" font-size="10.3" text-anchor="end" fill="#222">10<tspan font-size="7" dy="-4.2">2</tspan></text>
<text x="193.1" y="207.83" font-size="10.3" text-anchor="end" fill="#222">10<tspan font-size="7" dy="-4.2">3</tspan></text>
<text x="193.1" y="171.55" font-size="10.3" text-anchor="end" fill="#222">10<tspan font-size="7" dy="-4.2">4</tspan></text>
<text x="193.1" y="135.28" font-size="10.3" text-anchor="end" fill="#222">10<tspan font-size="7" dy="-4.2">5</tspan></text>
<text x="193.1" y="99" font-size="10.3" text-anchor="end" fill="#222">10<tspan font-size="7" dy="-4.2">6</tspan></text>
<text x="425.2" y="100.3" font-size="10.5" fill="#3c3cd0">10<tspan font-size="7.2" dy="-4.3">1</tspan></text>
<text x="425.2" y="148.67" font-size="10.5" fill="#3c3cd0">10<tspan font-size="7.2" dy="-4.3">0</tspan></text>
<text x="425.2" y="197.03" font-size="10.5" fill="#3c3cd0">10<tspan font-size="7.2" dy="-4.3">-1</tspan></text>
<text x="425.2" y="245.4" font-size="10.5" fill="#3c3cd0">10<tspan font-size="7.2" dy="-4.3">-2</tspan></text>
<text x="157" y="76.6" font-size="12" font-weight="bold" fill="#111">(A)</text>
<text x="279" y="74" font-size="11" font-weight="bold" fill="#111" textLength="61.5" lengthAdjust="spacingAndGlyphs">Absorption</text>
<text x="259.5" y="273.3" font-size="12.3" font-weight="bold" fill="#111" textLength="98.5" lengthAdjust="spacingAndGlyphs">Wavelength (nm)</text>
<circle cx="203.6" cy="87.7" r="2.2" fill="none" stroke="#e0702c" stroke-width="1"/>
<text x="219.8" y="91.5" font-size="10" fill="#222">Ab (HbO<tspan font-size="6.8" dy="2.3">2</tspan><tspan dy="-2.3">)</tspan></text>
<circle cx="277" cy="87.7" r="1.5" fill="none" stroke="#333" stroke-width="0.9"/>
<text x="293.3" y="91.5" font-size="10" fill="#222">Ab (Hb)</text>
<line x1="363" y1="87.7" x2="377" y2="87.7" stroke="#1e1ee8" stroke-width="1.1" stroke-dasharray="1.6,1.6"/>
<rect x="368" y="85.7" width="4" height="4" fill="#fff" stroke="#1e1ee8" stroke-width="1.1"/>
<text x="385.5" y="91.5" font-size="10" fill="#222">Water</text>
<text transform="translate(169.3,168.8) rotate(-90)" font-size="12.2" font-weight="bold" fill="#d4671f" text-anchor="middle" textLength="160.5" lengthAdjust="spacingAndGlyphs">Extinction Coefficient (M<tspan font-size="7" dy="-5.2">-1</tspan><tspan dy="5.2">cm</tspan><tspan font-size="7" dy="-5.2">-1</tspan><tspan dy="5.2">)</tspan></text>
<text transform="translate(448.5,167.8) rotate(90)" font-size="12" font-weight="bold" fill="#2a2ad0" text-anchor="middle" textLength="142" lengthAdjust="spacingAndGlyphs">Extinction Coefficient (cm<tspan font-size="7" dy="-5">-1</tspan><tspan dy="5">)</tspan></text>
<line x1="201.8" y1="407.76" x2="421.25" y2="407.76" stroke="#8c8ce6" stroke-width="1.1" stroke-dasharray="1.1,1.5"/>
<line x1="201.8" y1="365.92" x2="421.25" y2="365.92" stroke="#8c8ce6" stroke-width="1.1" stroke-dasharray="1.1,1.5"/>
<line x1="201.8" y1="324.08" x2="421.25" y2="324.08" stroke="#8c8ce6" stroke-width="1.1" stroke-dasharray="1.1,1.5"/>
<line x1="241.7" y1="304" x2="241.7" y2="449.6" stroke="#c8c8d8" stroke-width="0.9" stroke-dasharray="1,1.5"/>
<line x1="321.5" y1="304" x2="321.5" y2="449.6" stroke="#c8c8d8" stroke-width="0.9" stroke-dasharray="1,1.5"/>
<path d="M201.8,452.6V304H421.25V452.6M198.8,449.6H421.25" fill="none" stroke="#111" stroke-width="1.4"/>
<path d="M201.8,449.6v3.4M221.75,449.6v2.0M241.7,449.6v3.4M261.65,449.6v2.0M281.6,449.6v3.4M301.55,449.6v2.0M321.5,449.6v3.4M341.45,449.6v2.0M361.4,449.6v3.4M381.35,449.6v2.0M401.3,449.6v3.4M421.25,449.6v2.0M201.8,449.6h-3.6M201.8,437.01h-2.0M201.8,429.64h-2.0M201.8,424.41h-2.0M201.8,420.36h-2.0M201.8,417.04h-2.0M201.8,414.24h-2.0M201.8,411.82h-2.0M201.8,409.68h-2.0M201.8,407.76h-3.6M201.8,395.17h-2.0M201.8,387.8h-2.0M201.8,382.57h-2.0M201.8,378.52h-2.0M201.8,375.2h-2.0M201.8,372.4h-2.0M201.8,369.98h-2.0M201.8,367.84h-2.0M201.8,365.92h-3.6M201.8,353.33h-2.0M201.8,345.96h-2.0M201.8,340.73h-2.0M201.8,336.68h-2.0M201.8,333.36h-2.0M201.8,330.56h-2.0M201.8,328.14h-2.0M201.8,326h-2.0M201.8,324.08h-3.6M201.8,311.49h-2.0M201.8,304.12h-2.0" stroke="#111" stroke-width="1.25" fill="none"/>
<text x="201.8" y="464.5" font-size="10" text-anchor="middle" fill="#222">200</text>
<text x="241.7" y="464.5" font-size="10" text-anchor="middle" fill="#222">400</text>
<text x="281.6" y="464.5" font-size="10" text-anchor="middle" fill="#222">600</text>
<text x="321.5" y="464.5" font-size="10" text-anchor="middle" fill="#222">800</text>
<text x="361.4" y="464.5" font-size="10" text-anchor="middle" fill="#222">1000</text>
<text x="401.3" y="464.5" font-size="10" text-anchor="middle" fill="#222">1200</text>
<text x="195.8" y="452.5" font-size="10.8" text-anchor="end" fill="#222">10<tspan font-size="7" dy="-4.3">0</tspan></text>
<text x="195.8" y="410.66" font-size="10.8" text-anchor="end" fill="#222">10<tspan font-size="7" dy="-4.3">1</tspan></text>
<text x="195.8" y="368.82" font-size="10.8" text-anchor="end" fill="#222">10<tspan font-size="7" dy="-4.3">2</tspan></text>
<text x="195.8" y="326.98" font-size="10.8" text-anchor="end" fill="#222">10<tspan font-size="7" dy="-4.3">3</tspan></text>
<polyline points="211.78,437.01 216.76,442.23 221.75,417.04 231.73,375.2 241.7,367.84" fill="none" stroke="#4a3ee0" stroke-width="1.5"/>
<polyline points="251.68,358.55 261.65,350.79 281.6,334.95 301.55,329.31 321.5,320.77" fill="none" stroke="#e0661e" stroke-width="1.5"/>
<polyline points="361.4,315.54 401.3,309.76" fill="none" stroke="#8a1c1c" stroke-width="1.5"/>
<circle cx="211.78" cy="437.01" r="2.9" fill="#fff" stroke="#4a3ee0" stroke-width="1.5"/>
<circle cx="216.76" cy="442.23" r="2.9" fill="#fff" stroke="#4a3ee0" stroke-width="1.5"/>
<circle cx="221.75" cy="417.04" r="2.9" fill="#fff" stroke="#4a3ee0" stroke-width="1.5"/>
<circle cx="231.73" cy="375.2" r="2.9" fill="#fff" stroke="#4a3ee0" stroke-width="1.5"/>
<circle cx="241.7" cy="367.84" r="2.9" fill="#fff" stroke="#4a3ee0" stroke-width="1.5"/>
<path d="M251.68,355.55L254.68,358.55L251.68,361.55L248.68,358.55Z" fill="#fff" stroke="#e0661e" stroke-width="1.3"/>
<path d="M261.65,347.79L264.65,350.79L261.65,353.79L258.65,350.79Z" fill="#fff" stroke="#e0661e" stroke-width="1.3"/>
<path d="M281.6,331.95L284.6,334.95L281.6,337.95L278.6,334.95Z" fill="#fff" stroke="#e0661e" stroke-width="1.3"/>
<path d="M301.55,326.31L304.55,329.31L301.55,332.31L298.55,329.31Z" fill="#fff" stroke="#e0661e" stroke-width="1.3"/>
<path d="M321.5,317.77L324.5,320.77L321.5,323.77L318.5,320.77Z" fill="#fff" stroke="#e0661e" stroke-width="1.3"/>
<rect x="359.1" y="313.24" width="4.6" height="4.6" fill="#fff" stroke="#8a1c1c" stroke-width="1.3"/>
<rect x="399" y="307.46" width="4.6" height="4.6" fill="#fff" stroke="#8a1c1c" stroke-width="1.3"/>
<line x1="367.5" y1="391.75" x2="382.5" y2="391.75" stroke="#8a1c1c" stroke-width="1.5"/>
<rect x="372.7" y="389.45" width="4.6" height="4.6" fill="#fff" stroke="#8a1c1c" stroke-width="1.3"/>
<text x="391.25" y="395.35" font-size="10" fill="#222">NIR</text>
<line x1="367.5" y1="409.25" x2="382.5" y2="409.25" stroke="#e0661e" stroke-width="1.5"/>
<path d="M375,406.25L378,409.25L375,412.25L372,409.25Z" fill="#fff" stroke="#e0661e" stroke-width="1.3"/>
<text x="391.25" y="412.85" font-size="10" fill="#222">Vis</text>
<line x1="367.5" y1="426.75" x2="382.5" y2="426.75" stroke="#4a3ee0" stroke-width="1.5"/>
<circle cx="375" cy="426.75" r="2.9" fill="#fff" stroke="#4a3ee0" stroke-width="1.5"/>
<text x="391.25" y="430.35" font-size="10" fill="#222">UV</text>
<text x="156.8" y="287.7" font-size="12" font-weight="bold" fill="#111">(B)</text>
<text x="278" y="299" font-size="11" font-weight="bold" fill="#111" textLength="61" lengthAdjust="spacingAndGlyphs">Penetration</text>
<text x="262.5" y="481.8" font-size="12.3" font-weight="bold" fill="#111" textLength="99.5" lengthAdjust="spacingAndGlyphs">Wavelength (nm)</text>
<text transform="translate(171.4,376.4) rotate(-90)" font-size="11" font-weight="bold" fill="#111" text-anchor="middle" textLength="158.5" lengthAdjust="spacingAndGlyphs">Depth (μm) of Skin Penetration</text>
</g></svg>

<!-- CAPTION -->
<div id="caption">
<div class="ln cap j" style="top:494px"><span style="letter-spacing:0.55px">FIGURE 1.3</span>&nbsp;&nbsp; (A) Molar absorptivity (ε) of major chromophores in blood including water, hemoglobin (Hb) and</div>
<div class="ln cap j" style="top:506px">oxygen-bound hemoglobin (HbO<sub>2</sub>). (B) Depth of skin penetration by ultraviolet (UV), visible (Vis), and near-infrared</div>
<div class="ln cap j" style="top:518px">(NIR) light. Note: Each plot is prepared from values reported in literature as cited below. <i>W.S. Pegau, D. Gray, J.R.V.</i></div>
<div class="ln cap j" style="top:530px"><i>Zaneveld, Absorption and attenuation of visible and near-infrared light in water: dependence on temperature and salinity, Appl.</i></div>
<div class="ln cap j" style="top:541.6px"><i>Opt. 36 (1997) 6035–6046; F.E. Robles, S. Chowdhury, A. Wax, Assessing hemoglobin concentration using spectroscopic</i></div>
<div class="ln cap" style="top:554px;transform:scaleX(1.118)"><i>optical coherence tomography for feasibility of tissue diagnostics, Biomed. Opt. Express 1 (2010) 310–317.</i></div>
</div>

<!-- BODY -->
<div id="body">
<div class="ln bd j" style="top:587.6px">hemoglobins (39%—64%) and lipids than that occurring with Vis light (<span class="lk">Fig. 1.3</span>) [<span class="lk">105</span>]. Their</div>
<div class="ln bd j" style="top:601.6px">absorption gradually decreases as the light wavelength increases. Water molecules contribute</div>
<div class="ln bd j" style="top:616.4px">to the most significant absorption in this region. Overall, NIR light shows the highest tissue-</div>
<div class="ln bd j" style="top:630.6px">penetration ability among all three light sources, reaching as deep as 1200—2200 μm at</div>
<div class="ln bd" style="top:645.6px">800—1200 nm [<span class="lk">102</span>].</div>
<div class="ln bd j" style="top:659.6px;left:79px;width:422.8px">A shorter segment of NIR, which extends from approximately 650 to 950 nm, is referred to</div>
<div class="ln bd j" style="top:674.2px">as the first biological window (I-BW) for optical imaging [<span class="lk">35</span>,<span class="lk">107</span>]. Relative to the longer</div>
<div class="ln bd j" style="top:688.6px">segment, this NIR offers great benefits for optical imaging of NPs in vivo [<span class="lk">34</span>,<span class="lk">35</span>,<span class="lk">105</span>] because</div>
</div>
</body></html>
